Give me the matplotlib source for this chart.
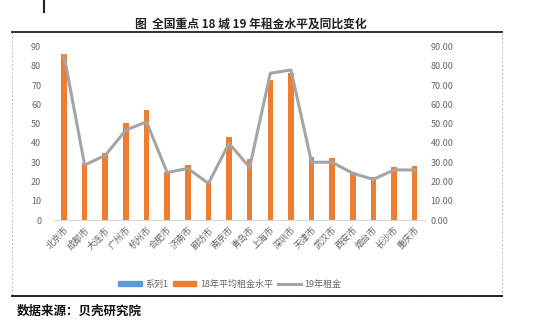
import matplotlib
matplotlib.use("Agg")
import matplotlib.pyplot as plt
from matplotlib.lines import Line2D
from matplotlib.patches import Rectangle, Patch

plt.rcParams['font.family'] = ['Noto Sans CJK SC', 'DejaVu Sans']

cities = ["北京市", "成都市", "大连市", "广州市", "杭州市", "合肥市", "济南市", "廊坊市", "南京市",
          "青岛市", "上海市", "深圳市", "天津市", "武汉市", "西安市", "烟台市", "长沙市", "重庆市"]
rent18 = [86, 29.4, 34.6, 50.5, 57, 25, 28.4, 20, 43, 31.7, 72.7, 76.2, 32.5, 32.2, 24.7, 22.5, 27.7, 28]
rent19 = [85.5, 28.5, 33.6, 46.7, 51, 24.6, 26.8, 19, 39.8, 27.3, 76.2, 77.9, 30, 30, 24.2, 21.1, 26, 26]
series1 = [0] * len(cities)
left_ticks = [0, 10, 20, 30, 40, 50, 60, 70, 80, 90]

W, H = 550, 326
fig = plt.figure(figsize=(5.5, 3.26), dpi=100)

def fx(px):
    return px / W

def fy(py):
    return 1 - py / H

# frame
fig.patches.append(Rectangle((fx(12), fy(296)), fx(490), (296 - 32) / H, transform=fig.transFigure,
                             fill=False, edgecolor='#bbbbbb', linestyle=(0, (2, 2)), linewidth=0.7))
fig.add_artist(Line2D([fx(12), fx(502)], [fy(32), fy(32)], color='#333333', linewidth=1.4))
fig.add_artist(Line2D([fx(12), fx(502)], [fy(296), fy(296)], color='#222222', linewidth=1.4))
fig.add_artist(Line2D([fx(44), fx(44)], [fy(0), fy(12)], color='#222222', linewidth=1.5))

fig.text(fx(251), fy(24), "图  全国重点 18 城 19 年租金水平及同比变化", ha='center', va='center',
         fontsize=8.5, fontweight='bold', color='#222222')
fig.text(fx(17), fy(311), "数据来源：贝壳研究院", ha='left', va='center',
         fontsize=9, fontweight='bold', color='#111111')

ax = fig.add_axes([fx(53.7), fy(220), fx(425 - 53.7), (220 - 46.7) / H])
x = list(range(len(cities)))
ax.bar(x, series1, width=0.25, color='#5B9BD5')
ax.bar(x, rent18, width=0.27, color='#ED7D31', zorder=2)
ax.set_xlim(-0.5, len(cities) - 0.5)
ax.set_ylim(0, 90)
ax.set_yticks(left_ticks)
ax.set_xticks(x)
ax.set_xticklabels(cities, rotation=45, ha='right', va='top', rotation_mode='anchor')
ax.tick_params(axis='both', length=0, labelsize=6.5, labelcolor='#666666')
ax.tick_params(axis='y', pad=9)
ax.tick_params(axis='x', pad=4)
for s in ['top', 'right', 'left']:
    ax.spines[s].set_visible(False)
ax.spines['bottom'].set_color('#d9d9d9')
ax.patch.set_alpha(0)

ax2 = ax.twinx()
ax2.plot(x, rent19, color='#A5A5A5', linewidth=2.2, zorder=3)
ax2.set_ylim(0, 90)
ax2.set_yticks(left_ticks)
ax2.set_yticklabels([f"{v:.2f}" for v in left_ticks])
ax2.tick_params(axis='y', length=0, labelsize=6.5, labelcolor='#666666', pad=4)
for s in ['top', 'right', 'left', 'bottom']:
    ax2.spines[s].set_visible(False)

handles = [Patch(color='#5B9BD5'), Patch(color='#ED7D31'), Line2D([], [], color='#A5A5A5', linewidth=2.2)]
labels = ["系列1", "18年平均租金水平", "19年租金"]
fig.legend(handles, labels, loc='center', bbox_to_anchor=(fx(230), fy(284)), ncol=3, frameon=False,
           fontsize=6.5, labelcolor='#666666', handlelength=2.6, handleheight=0.5, handletextpad=0.4,
           columnspacing=0.5)

fig.savefig("out.png", dpi=100)
